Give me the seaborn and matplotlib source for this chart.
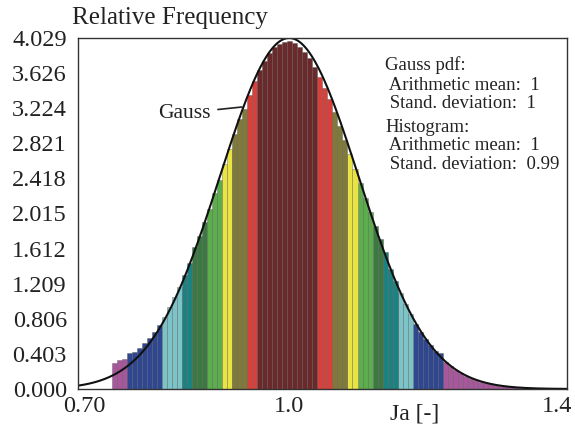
import numpy as np
import pandas as pd
import matplotlib
matplotlib.use("Agg")
import matplotlib.pyplot as plt
import matplotlib.transforms as mtransforms
import seaborn as sns

# ---------------- data ----------------
BIN_START = 0.7395
BIN_WIDTH = 0.00736
heights = [
    0.30, 0.33, 0.35, 0.41, 0.43, 0.47, 0.53, 0.58, 0.65, 0.74,
    0.83, 0.94, 1.06, 1.17, 1.31, 1.45, 1.63, 1.76, 1.92, 2.07,
    2.25, 2.40, 2.58, 2.76, 2.93, 3.10, 3.21, 3.38, 3.53, 3.66,
    3.77, 3.86, 3.92, 3.96, 3.98, 3.99, 3.97, 3.93, 3.87, 3.80,
    3.70, 3.58, 3.46, 3.33, 3.18, 3.02, 2.86, 2.70, 2.52, 2.36,
    2.19, 2.03, 1.87, 1.72, 1.57, 1.38, 1.24, 1.10, 0.98, 0.86,
    0.75, 0.66, 0.57, 0.50, 0.44, 0.41, 0.31, 0.26, 0.22, 0.18,
    0.15, 0.13, 0.105, 0.085, 0.07, 0.057, 0.046, 0.037, 0.03, 0.024,
    0.019, 0.015, 0.012, 0.010, 0.008, 0.006, 0.005, 0.004, 0.003, 0.003,
]
Y_TICK_LABELS = ["0.000", "0.403", "0.806", "1.209", "1.612", "2.015",
                 "2.418", "2.821", "3.224", "3.626", "4.029"]
X_TICKS = [0.70, 1.0, 1.4]
X_TICK_LABELS = ["0.70", "1.0", "1.4"]
X_LIMITS = (0.6903, 1.4073)
GAUSS_MEAN = 1.0
GAUSS_WIDTH = 0.1015   # spread of the drawn Gauss curve
GAUSS_PEAK = 4.029     # curve touches the top of the axis
INFO_LINES = ["Gauss pdf:", " Arithmetic mean:  1", " Stand. deviation:  1",
              "Histogram:", " Arithmetic mean:  1", " Stand. deviation:  0.99"]
BAND_COLORS = ["#a8579c", "#2f4791", "#7cc4c8", "#1b8181", "#3c7842",
               "#5cae4c", "#e9e441", "#807a3a", "#d8413b", "#6a2a2c"]

# ---------------- style ----------------
sns.set_theme(style="white")
plt.rcParams["font.family"] = ["Liberation Serif", "DejaVu Serif"]
plt.rcParams["text.color"] = "#222222"

W, H = 575, 426
fig = plt.figure(figsize=(W / 100, H / 100), dpi=100)
AX_L, AX_R, AX_T, AX_B = 78, 567, 38, 389
ax = fig.add_axes([AX_L / W, (H - AX_B) / H, (AX_R - AX_L) / W, (AX_B - AX_T) / H])

n = len(heights)
centers = np.round(BIN_START + BIN_WIDTH * (np.arange(n) + 0.5), 6)
ymax = float(Y_TICK_LABELS[-1])
step = ymax / (len(Y_TICK_LABELS) - 1)
band = np.minimum((np.array(heights) / step).astype(int), len(BAND_COLORS) - 1)
df = pd.DataFrame({"x": centers, "h": heights, "band": band.astype(str)})
pal = {str(i): c for i, c in enumerate(BAND_COLORS)}

sns.barplot(data=df, x="x", y="h", hue="band", palette=pal, native_scale=True,
            width=1.0, dodge=False, legend=False, errorbar=None, saturation=1,
            edgecolor=(0.3, 0.3, 0.3, 0.5), linewidth=0.5, ax=ax)

xs = np.linspace(X_LIMITS[0], X_LIMITS[1], 500)
ys = GAUSS_PEAK * np.exp(-0.5 * ((xs - GAUSS_MEAN) / GAUSS_WIDTH) ** 2)
sns.lineplot(x=xs, y=ys, color="#111111", linewidth=1.5, ax=ax)

ax.set_xlim(*X_LIMITS)
ax.set_ylim(0, ymax)
ax.set_xlabel("")
ax.set_ylabel("")
ax.set_yticks([float(t) for t in Y_TICK_LABELS])
ax.set_yticklabels(Y_TICK_LABELS)
ax.set_xticks(X_TICKS)
ax.set_xticklabels(X_TICK_LABELS)
edges = BIN_START + BIN_WIDTH * np.arange(n + 1)
ax.set_xticks(edges, minor=True)
ax.tick_params(axis="y", which="major", direction="in", length=4, width=1,
               labelsize=17.5, pad=8, colors="#333333", labelcolor="#222222")
ax.tick_params(axis="x", which="major", length=0, labelsize=17.5, pad=5,
               labelcolor="#222222")
ax.tick_params(axis="x", which="minor", direction="out", length=3, width=0.6,
               colors="#888888")
for s in ax.spines.values():
    s.set_visible(True)
    s.set_color("#333333")
    s.set_linewidth(1.0)
ax.grid(False)

# keep the last x tick label inside the image
last = ax.get_xticklabels()[-1]
last.set_transform(last.get_transform() +
                   mtransforms.ScaledTranslation(-5 / 100, 0, fig.dpi_scale_trans))

def px2d(px, py):
    return (X_LIMITS[0] + (px - AX_L) / (AX_R - AX_L) * (X_LIMITS[1] - X_LIMITS[0]),
            (AX_B - py) / (AX_B - AX_T) * ymax)

ax.annotate("Gauss", xy=px2d(242, 107), xytext=px2d(158, 113),
            ha="left", va="center", fontsize=15.5,
            arrowprops=dict(arrowstyle="-", lw=1.2, color="#222222",
                            shrinkA=3, shrinkB=0))

fig.text(72 / W, 1 - 18 / H, "Relative Frequency", fontsize=18, ha="left", va="center")
fig.text(415 / W, 1 - 414 / H, "Ja [-]", fontsize=17, ha="center", va="center")

ys_info = [65, 85, 104, 127, 146, 165]
for line, py in zip(INFO_LINES, ys_info):
    fig.text(385 / W, 1 - py / H, line, fontsize=13.5, ha="left", va="center")

fig.savefig("out.png", dpi=100)
